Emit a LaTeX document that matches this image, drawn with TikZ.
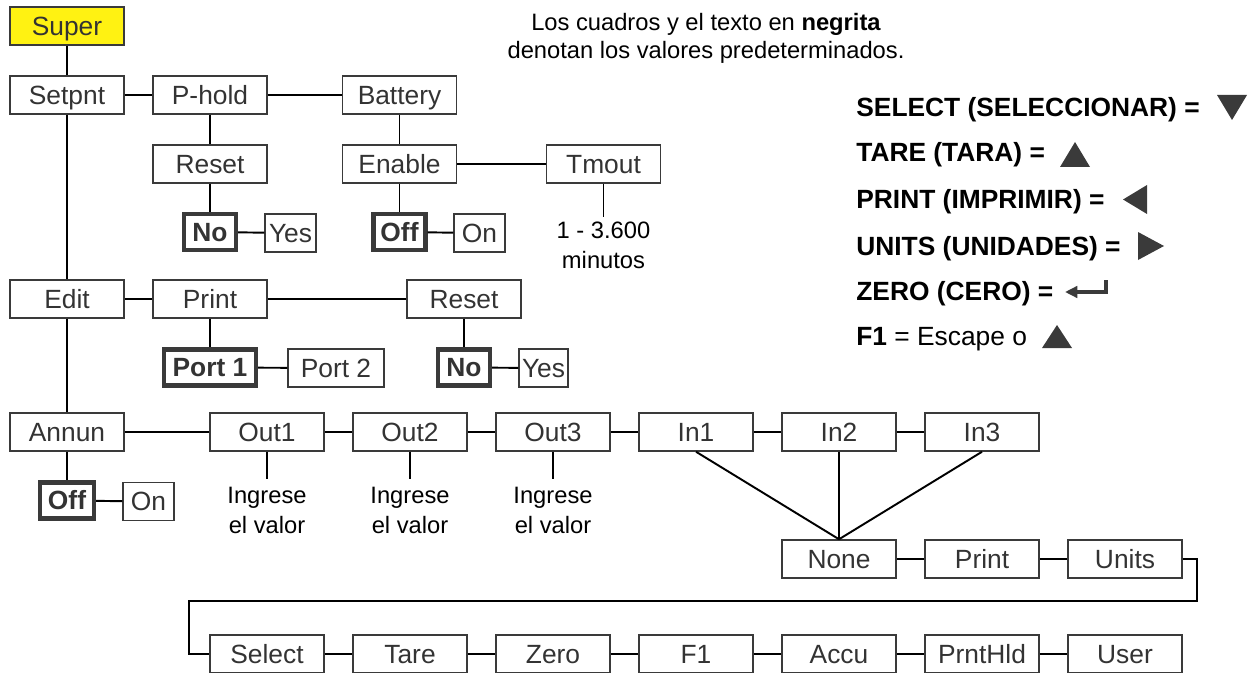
\documentclass[tikz,border=0pt]{standalone}
\usepackage{fontspec}
\setmainfont{Liberation Sans}
\usetikzlibrary{arrows.meta}
\definecolor{boxgray}{HTML}{3A3A3A}
\definecolor{txtgray}{HTML}{333333}
\definecolor{superyellow}{HTML}{FFF212}
\newcommand*{\boxw}{2.28cm}
\newcommand*{\boxh}{0.76cm}

\begin{document}
\begin{tikzpicture}
[
	x=0.02cm,y=-0.02cm,
	menubox/.style={draw=boxgray,line width=0.85pt,minimum width=\boxw,minimum height=\boxh,inner sep=0pt,text height=13pt,text depth=2.2pt,text=txtgray,font=\fontsize{15}{18}\selectfont},
	optbox/.style={menubox,minimum width=1.02cm},
	defbox/.style={menubox,line width=2.5pt,minimum width=1.04cm,minimum height=0.72cm,font=\fontsize{15}{18}\selectfont\bfseries},
	note/.style={align=center,inner xsep=1pt,text=black,font=\fontsize{13.5}{17}\selectfont},
	key/.style={anchor=base west,inner sep=0pt,font=\fontsize{15}{18}\selectfont\bfseries},
	link/.style={line width=1.1pt},
]
	\useasboundingbox (0,0) rectangle (1256,672);

	% setpoint menu
	\node[menubox,fill=superyellow] at (67,26) (super) {Super};
	\node[menubox] at (67,95) (setpnt) {Setpnt};
	\node[menubox] at (210,95) (phold) {P-hold};
	\node[menubox] at (399.5,95) (battery) {Battery};
	\node[menubox] at (210,164) (preset) {Reset};
	\node[menubox] at (399.5,164) (enable) {Enable};
	\node[menubox] at (603.5,164) (tmout) {Tmout};
	\node[defbox] at (210,232) (pno) {No};
	\node[optbox] at (290.5,233) (pyes) {Yes};
	\node[defbox] at (399.5,232) (boff) {Off};
	\node[optbox] at (479.5,233) (bon) {On};
	\node[note,anchor=north,inner ysep=2.8pt] at (603.5,217) (tval) {1 - 3.600\\minutos};

	\draw[link] (super) -- (setpnt);
	\draw[link] (setpnt) -- (phold);
	\draw[link] (phold) -- (battery);
	\draw[link] (phold) -- (preset);
	\draw[link] (preset) -- (pno);
	\draw[link] (pno) -- (pyes);
	\draw[link] (battery) -- (enable);
	\draw[link] (enable) -- (tmout);
	\draw[link] (enable) -- (boff);
	\draw[link] (boff) -- (bon);
	\draw[link] (tmout) -- (tval);

	% edit menu
	\node[menubox] at (67,299) (edit) {Edit};
	\node[menubox] at (210,299) (print) {Print};
	\node[menubox] at (464,299) (ereset) {Reset};
	\node[defbox,minimum width=1.84cm] at (210,367.5) (port1) {Port 1};
	\node[optbox,minimum width=1.92cm] at (336,368) (port2) {Port 2};
	\node[defbox] at (464,367.5) (eno) {No};
	\node[optbox,minimum width=0.98cm] at (543.5,368) (eyes) {Yes};

	\draw[link] (setpnt) -- (edit);
	\draw[link] (edit) -- (print);
	\draw[link] (print) -- (ereset);
	\draw[link] (print) -- (port1);
	\draw[link] (port1) -- (port2);
	\draw[link] (ereset) -- (eno);
	\draw[link] (eno) -- (eyes);

	% annunciator menu
	\node[menubox] at (67,432) (annun) {Annun};
	\node[menubox] at (267,432) (out1) {Out1};
	\node[menubox] at (410,432) (out2) {Out2};
	\node[menubox] at (553,432) (out3) {Out3};
	\node[menubox] at (696,432) (in1) {In1};
	\node[menubox] at (839,432) (in2) {In2};
	\node[menubox] at (982,432) (in3) {In3};
	\node[defbox,minimum width=1.08cm] at (67,500.5) (aoff) {Off};
	\node[optbox] at (148.5,501.5) (aon) {On};
	\node[note,anchor=north,inner ysep=4.5pt] at (267,479) (val1) {Ingrese\\el valor};
	\node[note,anchor=north,inner ysep=4.5pt] at (410,479) (val2) {Ingrese\\el valor};
	\node[note,anchor=north,inner ysep=4.5pt] at (553,479) (val3) {Ingrese\\el valor};

	\draw[link] (edit) -- (annun);
	\draw[link] (annun) -- (aoff);
	\draw[link] (aoff) -- (aon);
	\draw[link] (annun) -- (out1);
	\draw[link] (out1) -- (out2);
	\draw[link] (out2) -- (out3);
	\draw[link] (out3) -- (in1);
	\draw[link] (in1) -- (in2);
	\draw[link] (in2) -- (in3);
	\draw[link] (out1) -- (val1);
	\draw[link] (out2) -- (val2);
	\draw[link] (out3) -- (val3);

	% input functions
	\node[menubox] at (839,559) (none) {None};
	\node[menubox] at (982,559) (fprint) {Print};
	\node[menubox] at (1125,559) (units) {Units};
	\node[menubox] at (267,654) (select) {Select};
	\node[menubox] at (410,654) (tare) {Tare};
	\node[menubox] at (553,654) (zero) {Zero};
	\node[menubox] at (696,654) (fone) {F1};
	\node[menubox] at (839,654) (accu) {Accu};
	\node[menubox] at (982,654) (prnthld) {PrntHld};
	\node[menubox] at (1125,654) (user) {User};
	\coordinate (wrap) at (189,601);

	\draw[link] (in1.south) -- (none.north);
	\draw[link] (in2.south) -- (none.north);
	\draw[link] (in3.south) -- (none.north);
	\draw[link] (none) -- (fprint);
	\draw[link] (fprint) -- (units);
	\draw[link] (units.east) -- ++(14,0) |- (wrap) |- (select.west);
	\draw[link] (select) -- (tare);
	\draw[link] (tare) -- (zero);
	\draw[link] (zero) -- (fone);
	\draw[link] (fone) -- (accu);
	\draw[link] (accu) -- (prnthld);
	\draw[link] (prnthld) -- (user);

	% key legend
	\node[note,anchor=base] at (706,31) (head1) {Los cuadros y el texto en \textbf{negrita}};
	\node[note,anchor=base] at (706,59) (head2) {denotan los valores predeterminados.};
	\node[key] at (856,117) (kselect) {SELECT (SELECCIONAR) =};
	\node[key] at (856,162) (ktare) {TARE (TARA) =};
	\node[key] at (856,208) (kprint) {PRINT (IMPRIMIR) =};
	\node[key] at (856,255) (kunits) {UNITS (UNIDADES) =};
	\node[key] at (856,300) (kzero) {ZERO (CERO) =};
	\node[key] at (856,345) (kfone) {F1 \mdseries= Escape o};

	\fill[boxgray] (1217,95) -- (1247,95) -- (1232,120) -- cycle;
	\fill[boxgray] (1060,167) -- (1090,167) -- (1075,142) -- cycle;
	\fill[boxgray] (1147,185) -- (1147,214) -- (1123,199.5) -- cycle;
	\fill[boxgray] (1138,232) -- (1138,260) -- (1164,246) -- cycle;
	\draw[boxgray,line width=2.3pt,-{Triangle[length=7pt,width=6.5pt]}] (1106,280) -- (1106,292) -- (1065,292);
	\fill[boxgray] (1042,348) -- (1072,348) -- (1057,325) -- cycle;

\end{tikzpicture}
\end{document}
